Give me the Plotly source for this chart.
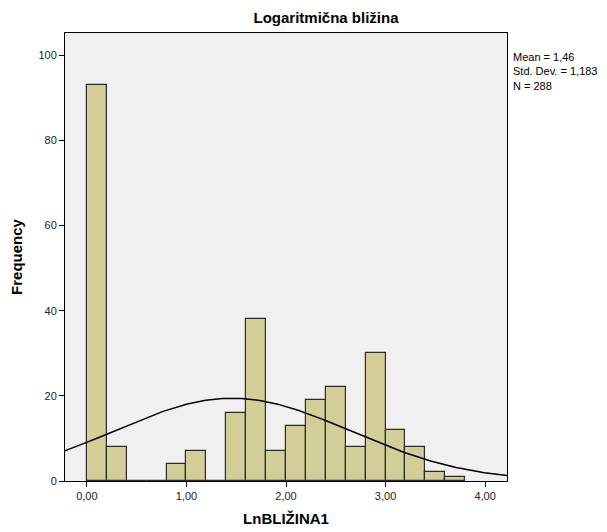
import numpy as np
import plotly.graph_objects as go

# Histogram data (bin width 0.2)
bin_starts = [0.0, 0.2, 0.4, 0.6, 0.8, 1.0, 1.2, 1.4, 1.6, 1.8, 2.0, 2.2, 2.4, 2.6, 2.8, 3.0, 3.2, 3.4, 3.6]
counts = [93, 8, 0, 0, 4, 7, 0, 16, 38, 7, 13, 19, 22, 8, 30, 12, 8, 2, 1]
bin_width = 0.2

# Summary statistics
mean = 1.46
std_dev = 1.183
n = 288

x_ticks = [0, 1, 2, 3, 4]
x_tick_labels = ["0,00", "1,00", "2,00", "3,00", "4,00"]
y_ticks = [0, 20, 40, 60, 80, 100]

FONT = "Liberation Sans, Arial, sans-serif"

centers = [s + bin_width / 2 for s in bin_starts]

# Fitted normal curve
xs = np.linspace(-0.25, 4.25, 300)
ys = n * bin_width / (std_dev * np.sqrt(2 * np.pi)) * np.exp(-0.5 * ((xs - mean) / std_dev) ** 2)

# page body has an 8px margin, so the figure is drawn 8px in from the top-left
W, H = 599, 524

fig = go.Figure()
fig.add_trace(go.Bar(
    x=centers, y=counts, width=bin_width,
    marker=dict(color="#D3CE97", line=dict(color="#2b2b2b", width=1.2)),
    showlegend=False, hoverinfo="x+y",
))
fig.add_trace(go.Scatter(
    x=xs, y=ys, mode="lines",
    line=dict(color="black", width=1.5),
    showlegend=False, hoverinfo="skip",
))

fig.update_layout(
    width=W, height=H,
    margin=dict(l=57, r=100, t=25, b=51, autoexpand=False),
    paper_bgcolor="white",
    plot_bgcolor="#F0F0F0",
    bargap=0,
    font=dict(family=FONT, size=11, color="black"),
    title=dict(
        text="<b>Logaritmična bližina</b>",
        x=318 / W, xanchor="center",
        y=1 - 10 / H, yanchor="middle",
        font=dict(family=FONT, size=15, color="black"),
    ),
    xaxis=dict(
        range=[-0.22, 4.22], automargin=False,
        tickmode="array", tickvals=x_ticks, ticktext=x_tick_labels,
        ticks="outside", ticklen=5, tickcolor="black",
        showgrid=False, zeroline=False,
        showline=True, linecolor="black", linewidth=1, mirror=True,
        tickfont=dict(family=FONT, size=11, color="#222"),
        title=dict(text="<b>LnBLIŽINA1</b>", font=dict(family=FONT, size=15, color="black"), standoff=12),
    ),
    yaxis=dict(
        range=[0, 105.2], automargin=False,
        tickmode="array", tickvals=y_ticks,
        ticks="outside", ticklen=5, tickcolor="black",
        showgrid=False, zeroline=False,
        showline=True, linecolor="black", linewidth=1, mirror=True,
        tickfont=dict(family=FONT, size=11, color="#222"),
        title=dict(text="<b>Frequency</b>", font=dict(family=FONT, size=15, color="black"), standoff=14),
    ),
)

stats_text = "Mean = {}<br>Std. Dev. = {}<br>N = {}".format(
    f"{mean:.2f}".replace(".", ","), f"{std_dev:.3f}".replace(".", ","), n)
fig.add_annotation(
    text=stats_text, xref="paper", yref="paper",
    x=1.0, xshift=4, y=1.0, yshift=-16,
    xanchor="left", yanchor="top", align="left", showarrow=False,
    font=dict(family=FONT, size=11, color="black"),
)

fig.write_html("out.html")
